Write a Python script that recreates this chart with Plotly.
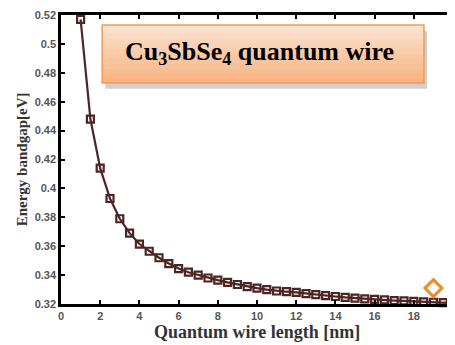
import plotly.graph_objects as go

length_nm = [1, 1.5, 2, 2.5, 3, 3.5, 4, 4.5, 5, 5.5, 6, 6.5, 7, 7.5, 8, 8.5, 9, 9.5, 10,
             10.5, 11, 11.5, 12, 12.5, 13, 13.5, 14, 14.5, 15, 15.5, 16, 16.5, 17, 17.5,
             18, 18.5, 19, 19.5, 20]
bandgap_eV = [0.517, 0.448, 0.414, 0.393, 0.379, 0.369, 0.3615, 0.3565, 0.352, 0.348,
              0.3445, 0.342, 0.340, 0.338, 0.3365, 0.335, 0.3335, 0.332, 0.331, 0.330,
              0.329, 0.3285, 0.328, 0.3272, 0.3265, 0.3258, 0.3252, 0.3246, 0.3241,
              0.3236, 0.3232, 0.3228, 0.3224, 0.3221, 0.3218, 0.3215, 0.3212, 0.3209, 0.3206]
marker_x = [19]
marker_y = [0.331]
x_ticks = [0, 2, 4, 6, 8, 10, 12, 14, 16, 18, 20]
y_ticks = [0.32, 0.34, 0.36, 0.38, 0.40, 0.42, 0.44, 0.46, 0.48, 0.50, 0.52]
y_tick_text = ["0.32", "0.34", "0.36", "0.38", "0.4", "0.42", "0.44", "0.46", "0.48", "0.5", "0.52"]

curve_color = "#4e2424"

fig = go.Figure()
fig.add_trace(go.Scatter(
    x=length_nm, y=bandgap_eV, mode="lines+markers",
    line=dict(color=curve_color, width=2.2),
    marker=dict(symbol="square-open", size=7, color=curve_color, line=dict(width=2.2, color=curve_color)),
    showlegend=False, cliponaxis=False,
))
fig.add_trace(go.Scatter(
    x=marker_x, y=marker_y, mode="markers",
    marker=dict(symbol="diamond-open", size=13, color="#f08a2a", line=dict(width=3, color="#f08a2a")),
    showlegend=False,
))

# annotation box with shadow and vertical gradient bands
x0, x1, y0, y1 = 0.105, 0.926, 0.765, 0.965
shapes = [dict(type="rect", xref="paper", yref="paper", x0=x0 + 0.008, x1=x1 + 0.008,
               y0=y0 - 0.02, y1=y1 - 0.02, fillcolor="rgba(120,120,120,0.35)", line=dict(width=0),
               layer="above")]
n = 12
top = (253, 226, 206)
bot = (249, 180, 130)
for i in range(n):
    t = i / (n - 1)
    c = tuple(int(top[k] + (bot[k] - top[k]) * t) for k in range(3))
    ya = y1 - (y1 - y0) * i / n
    yb = y1 - (y1 - y0) * (i + 1) / n
    shapes.append(dict(type="rect", xref="paper", yref="paper", x0=x0, x1=x1, y0=yb, y1=ya,
                       fillcolor="rgb(%d,%d,%d)" % c, line=dict(width=0), layer="above"))
shapes.append(dict(type="rect", xref="paper", yref="paper", x0=x0, x1=x1, y0=y0, y1=y1,
                   fillcolor="rgba(0,0,0,0)", line=dict(width=1.5, color="#f39a55"), layer="above"))

title_font = dict(family="Liberation Serif", color="#333333", weight="bold")

fig.update_layout(
    width=447, height=337,
    margin=dict(l=53, r=2, t=7, b=41),
    paper_bgcolor="white", plot_bgcolor="white",
    shapes=shapes,
    annotations=[
        dict(text="Cu<sub>3</sub>SbSe<sub>4</sub> quantum wire", xref="paper", yref="paper",
             x=0.506, y=0.869, showarrow=False, xanchor="center", yanchor="middle",
             font=dict(family="Liberation Serif", size=26, color="black", weight="bold")),
        dict(text="Quantum wire length [nm]", xref="paper", yref="paper",
             x=0.5, y=-0.098, showarrow=False, xanchor="center", yanchor="middle",
             font=dict(size=18, **title_font)),
        dict(text="Energy bandgap[eV]", xref="paper", yref="paper",
             x=-0.1, y=0.5, showarrow=False, xanchor="center", yanchor="middle", textangle=-90,
             font=dict(size=15, **title_font)),
    ],
    xaxis=dict(
        range=[0, 20], tickvals=x_ticks, ticks="inside", ticklen=4, tickwidth=1.5, tickcolor="black",
        showline=True, linecolor="black", linewidth=2.5, mirror="ticks", showgrid=False, zeroline=False,
        automargin=False,
        tickfont=dict(family="Liberation Sans", size=11, color="#555555", weight="bold"),
    ),
    yaxis=dict(
        range=[0.32, 0.52], tickvals=y_ticks, ticktext=y_tick_text, ticks="inside", ticklen=4,
        tickwidth=1.5, tickcolor="black", automargin=False,
        showline=True, linecolor="black", linewidth=2.5, mirror="ticks", showgrid=False, zeroline=False,
        tickfont=dict(family="Liberation Sans", size=11, color="#555555", weight="bold"),
    ),
)
fig.write_html("out.html")
